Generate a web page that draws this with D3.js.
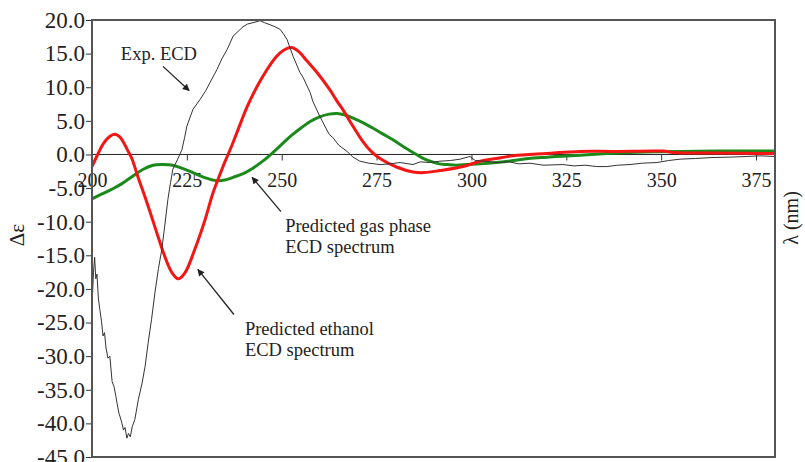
<!DOCTYPE html>
<html>
<head>
<meta charset="utf-8">
<script src="https://cdn.jsdelivr.net/npm/d3@7"></script>
<style>
  html, body { margin: 0; padding: 0; background: #fff; }
  svg { display: block; font-family: "Liberation Serif", "Times New Roman", serif; }
</style>
</head>
<body>
<script>
// experimental ECD (nm, delta epsilon)
const expWl = [200.0, 200.4, 200.7, 201.0, 201.3, 201.7, 202.1, 202.5, 202.9, 203.3, 203.7, 204.2, 204.7, 205.3, 205.8,
  206.3, 206.6, 207.1, 207.5, 207.9, 208.3, 208.7, 209.2, 209.6, 210.1, 210.6, 211.3, 212.2, 213.2, 214.0, 214.8,
  215.7, 216.6, 217.5, 218.4, 219.2, 220.0, 220.7, 221.3, 222.5, 223.7, 224.4, 225.0, 226.6, 228.5, 230.0, 231.1,
  232.9, 234.2, 235.6, 237.2, 238.5, 239.8, 241.0, 242.4, 244.3, 245.5, 246.9, 248.2, 249.6, 250.5, 251.4, 253.0,
  254.8, 255.6, 257.5, 258.2, 260.1, 261.2, 262.5, 263.5, 265.0, 267.2, 268.8, 270.6, 273.0, 275.9, 278.5, 281.2,
  284.6, 286.5, 289.0, 291.7, 294.5, 297.0, 299.6, 301.0, 303.5, 306.7, 310.0, 312.5, 315.4, 319.0, 324.1, 327.0,
  330.0, 333.0, 335.7, 338.5, 341.8, 345.0, 348.9, 352.0, 355.0, 359.0, 363.7, 368.0, 372.6, 376.0, 380.0];
const expVals = [-22.5, -17.5, -15.3, -18.5, -17.8, -21.5, -23.2, -24.8, -27.0, -26.5, -28.8, -30.3, -30.0, -33.8, -34.5,
  -36.0, -37.0, -38.5, -39.2, -40.0, -41.0, -40.6, -42.2, -41.5, -42.0, -40.5, -39.4, -36.5, -34.0, -31.5, -28.0,
  -24.5, -20.5, -17.0, -14.1, -10.5, -6.7, -4.2, -2.2, -0.8, 0.7, 2.5, 4.2, 6.7, 8.2, 9.5, 10.7,
  12.6, 14.2, 15.6, 17.6, 18.3, 19.0, 19.4, 19.6, 19.9, 19.6, 19.3, 19.0, 18.6, 17.9, 17.1, 14.6,
  12.2, 11.5, 9.2, 7.9, 5.6, 4.4, 3.0, 2.5, 1.4, 0.45, -0.4, -1.0, -1.3, -1.5, -1.4, -1.2,
  -1.5, -1.1, -1.2, -1.0, -0.9, -0.7, -0.3, -0.9, -1.0, -1.2, -1.1, -1.4, -1.3, -1.6, -1.5, -1.7,
  -1.6, -1.8, -1.8, -1.6, -1.5, -1.3, -1.2, -0.9, -0.7, -0.6, -0.45, -0.4, -0.3, -0.2, -0.3];

// predicted ethanol ECD
const ethWl = [200.0, 201.5, 203.0, 204.5, 206.0, 207.3, 208.5, 209.5, 210.5, 212.1, 214.8, 217.4, 219.2, 221.1, 222.7,
  224.5, 227.1, 229.8, 231.9, 233.7, 235.1, 236.4, 238.5, 240.9, 243.5, 246.1, 248.5, 250.5, 252.5, 254.5, 256.5,
  259.3, 262.7, 264.6, 266.2, 268.0, 271.4, 273.5, 275.9, 280.4, 284.6, 287.5, 291.7, 297.8, 302.3, 306.5, 311.0,
  319.9, 328.6, 337.3, 350.5, 353.1, 363.7, 380.0];
const ethVals = [-1.8, 0.0, 1.6, 2.6, 3.0, 2.6, 1.6, 0.5, -0.6, -3.3, -7.7, -12.2, -15.2, -17.6, -18.5,
  -17.6, -14.1, -9.7, -5.7, -3.0, -1.0, 0.7, 3.7, 7.1, 10.1, 12.6, 14.5, 15.5, 15.9, 15.3, 14.0,
  12.2, 9.6, 7.9, 6.6, 4.9, 1.9, 0.5, -0.6, -1.9, -2.6, -2.7, -2.4, -1.8, -1.0, -0.6, -0.2,
  0.15, 0.45, 0.45, 0.5, 0.3, 0.2, 0.15];

// predicted gas phase ECD
const gasWl = [200.0, 202.5, 205.5, 208.0, 210.8, 213.5, 216.1, 218.5, 221.3, 224.0, 226.6, 229.5, 232.9, 235.0, 237.2,
  240.0, 242.5, 245.0, 247.5, 250.0, 252.5, 255.0, 257.5, 260.0, 262.5, 264.6, 266.5, 268.8, 271.5, 274.1, 276.5,
  279.3, 282.0, 284.6, 287.0, 289.1, 291.5, 293.6, 296.0, 298.8, 302.3, 306.5, 311.0, 315.0, 319.9, 324.0, 328.6,
  335.7, 341.8, 348.0, 355.0, 365.0, 380.0];
const gasVals = [-6.6, -5.9, -5.1, -4.3, -3.2, -2.2, -1.6, -1.5, -1.6, -2.1, -2.7, -3.4, -3.9, -3.8, -3.4,
  -2.8, -2.0, -1.0, 0.2, 1.5, 2.8, 3.9, 4.9, 5.6, 6.0, 6.1, 5.9, 5.4, 4.7, 3.9, 3.1,
  2.2, 1.2, 0.3, -0.5, -1.0, -1.4, -1.5, -1.6, -1.5, -1.4, -1.2, -0.9, -0.6, -0.4, -0.25, -0.1,
  0.15, 0.3, 0.4, 0.45, 0.5, 0.5];

const xTicks = [200, 225, 250, 275, 300, 325, 350, 375];
const xTickLabels = ["200", "225", "250", "275", "300", "325", "350", "375"];
const yTicks = [20, 15, 10, 5, 0, -5, -10, -15, -20, -25, -30, -35, -40, -45];
const yTickLabels = ["20.0", "15.0", "10.0", "5.0", "0.0", "-5.0", "-10.0", "-15.0", "-20.0", "-25.0",
  "-30.0", "-35.0", "-40.0", "-45.0"];

const width = 805, height = 462;
const margin = { top: 20, right: 30, bottom: 5, left: 92 };

const svg = d3.select("body").append("svg")
  .attr("width", width)
  .attr("height", height);

const x = d3.scaleLinear().domain([200, 380]).range([margin.left, width - margin.right]);
const y = d3.scaleLinear().domain([-45, 20]).range([height - margin.bottom, margin.top]);

const defs = svg.append("defs");
defs.append("marker")
  .attr("id", "arrow")
  .attr("viewBox", "0 0 10 10")
  .attr("refX", 9)
  .attr("refY", 5)
  .attr("markerWidth", 9)
  .attr("markerHeight", 7)
  .attr("markerUnits", "userSpaceOnUse")
  .attr("orient", "auto")
  .append("path")
  .attr("d", "M0,0 L10,5 L0,10 z")
  .attr("fill", "#222");

// y axis ticks + labels
const yAxis = svg.append("g")
  .attr("transform", `translate(${margin.left},0)`)
  .call(d3.axisLeft(y)
    .tickValues(yTicks)
    .tickSize(6)
    .tickPadding(1)
    .tickFormat((d, i) => yTickLabels[i]));
yAxis.select(".domain").remove();
yAxis.selectAll(".tick line").attr("stroke", "#333");
yAxis.selectAll(".tick text")
  .attr("fill", "#222")
  .style("font-family", "Liberation Serif")
  .style("font-size", "23px");

// zero line with x ticks hanging below
svg.append("line")
  .attr("x1", margin.left).attr("x2", width - margin.right)
  .attr("y1", y(0)).attr("y2", y(0))
  .attr("stroke", "#222")
  .attr("stroke-width", 1);

const xAxis = svg.append("g")
  .attr("transform", `translate(0,${y(0)})`)
  .call(d3.axisBottom(x)
    .tickValues(xTicks)
    .tickSize(6)
    .tickPadding(12)
    .tickFormat((d, i) => xTickLabels[i]));
xAxis.select(".domain").remove();
xAxis.selectAll(".tick line").attr("stroke", "#333");
xAxis.selectAll(".tick text")
  .attr("fill", "#222")
  .style("font-family", "Liberation Serif")
  .style("font-size", "20px");

// series
const line = d3.line()
  .x(d => x(d[0]))
  .y(d => y(d[1]));

const smooth = d3.line()
  .curve(d3.curveCatmullRom)
  .x(d => x(d[0]))
  .y(d => y(d[1]));

svg.append("path")
  .datum(gasWl.map((w, i) => [w, gasVals[i]]))
  .attr("fill", "none")
  .attr("stroke", "#1b8a1b")
  .attr("stroke-width", 3)
  .attr("d", smooth);

svg.append("path")
  .datum(ethWl.map((w, i) => [w, ethVals[i]]))
  .attr("fill", "none")
  .attr("stroke", "#f41515")
  .attr("stroke-width", 3)
  .attr("d", smooth);

svg.append("path")
  .datum(expWl.map((w, i) => [w, expVals[i]]))
  .attr("fill", "none")
  .attr("stroke", "#333")
  .attr("stroke-width", 1)
  .attr("d", line);

// frame
svg.append("rect")
  .attr("x", margin.left)
  .attr("y", margin.top)
  .attr("width", width - margin.right - margin.left)
  .attr("height", height - margin.bottom - margin.top)
  .attr("fill", "none")
  .attr("stroke", "#555")
  .attr("stroke-width", 2);

// annotations (data coordinates)
const notes = [
  { lines: ["Exp. ECD"], at: [207.6, 14.0], from: [218.7, 13.1], to: [225.6, 9.5] },
  { lines: ["Predicted gas phase", "ECD spectrum"], at: [250.9, -11.5], from: [249.8, -8.5], to: [242.2, -3.4] },
  { lines: ["Predicted ethanol", "ECD spectrum"], at: [240.3, -26.8], from: [237.4, -23.8], to: [227.9, -17.1] }
];

notes.forEach(n => {
  const t = svg.append("text")
    .attr("x", x(n.at[0]))
    .attr("y", y(n.at[1]))
    .attr("fill", "#222")
    .style("font-size", "18.5px");
  n.lines.forEach((s, i) => {
    t.append("tspan")
      .attr("x", x(n.at[0]))
      .attr("dy", i === 0 ? 0 : 21)
      .text(s);
  });
  svg.append("line")
    .attr("x1", x(n.from[0])).attr("y1", y(n.from[1]))
    .attr("x2", x(n.to[0])).attr("y2", y(n.to[1]))
    .attr("stroke", "#222")
    .attr("stroke-width", 1.3)
    .attr("marker-end", "url(#arrow)");
});

// axis titles
svg.append("text")
  .attr("transform", "translate(24,235) rotate(-90)")
  .attr("text-anchor", "middle")
  .attr("fill", "#222")
  .style("font-size", "21px")
  .text("Δε");

svg.append("text")
  .attr("transform", "translate(798,218) rotate(-90)")
  .attr("text-anchor", "middle")
  .attr("fill", "#222")
  .style("font-size", "20px")
  .text("λ (nm)");
</script>
</body>
</html>
